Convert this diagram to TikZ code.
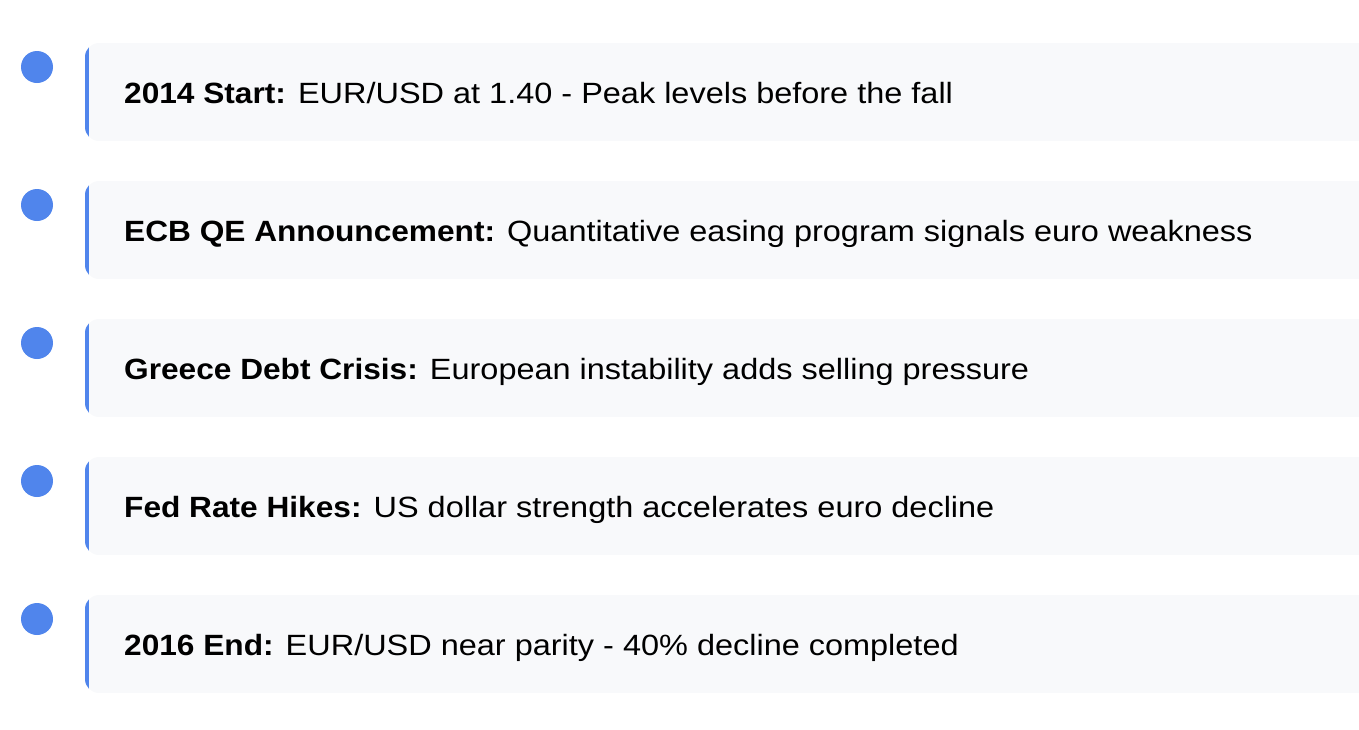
\documentclass[tikz,border=0pt]{standalone}
\usepackage{fontspec}
\setmainfont{Liberation Sans}[FakeStretch=1.108, BoldFeatures={FakeStretch=1.08}]
\definecolor{dotblue}{RGB}{80,133,236}
\definecolor{cardgray}{HTML}{F8F9FB}

\begin{document}
\begin{tikzpicture}[x=1pt, y=-1pt,
	dot/.style={circle, fill=dotblue, minimum size=32pt, inner sep=0pt},
	evtext/.style={anchor=base west, inner sep=0pt, font=\fontsize{29.3}{35}\selectfont}]
	\useasboundingbox (0,0) rectangle (1359,729);
	% cards with the blue left edge
	\foreach \yy in {43,181,319,457,595}{
		\begin{scope}
			\clip[rounded corners=14pt] (85,\yy) rectangle (1380,\yy+98);
			\fill[cardgray] (85,\yy) rectangle (1380,\yy+98);
			\fill[dotblue] (85,\yy) rectangle (89,\yy+98);
		\end{scope}
	}
	\node[dot] (d1) at (37,67) {};
	\node[dot] (d2) at (37,205) {};
	\node[dot] (d3) at (37,343) {};
	\node[dot] (d4) at (37,481) {};
	\node[dot] (d5) at (37,619) {};
	\node[evtext] (t1) at (124,103) {\textbf{2014 Start:} EUR/USD at 1.40 - Peak levels before the fall};
	\node[evtext] (t2) at (124,241) {\textbf{ECB QE Announcement:} Quantitative easing program signals euro weakness};
	\node[evtext] (t3) at (124,379) {\textbf{Greece Debt Crisis:} European instability adds selling pressure};
	\node[evtext] (t4) at (124,517) {\textbf{Fed Rate Hikes:} US dollar strength accelerates euro decline};
	\node[evtext] (t5) at (124,655) {\textbf{2016 End:} EUR/USD near parity - 40\% decline completed};
\end{tikzpicture}
\end{document}
